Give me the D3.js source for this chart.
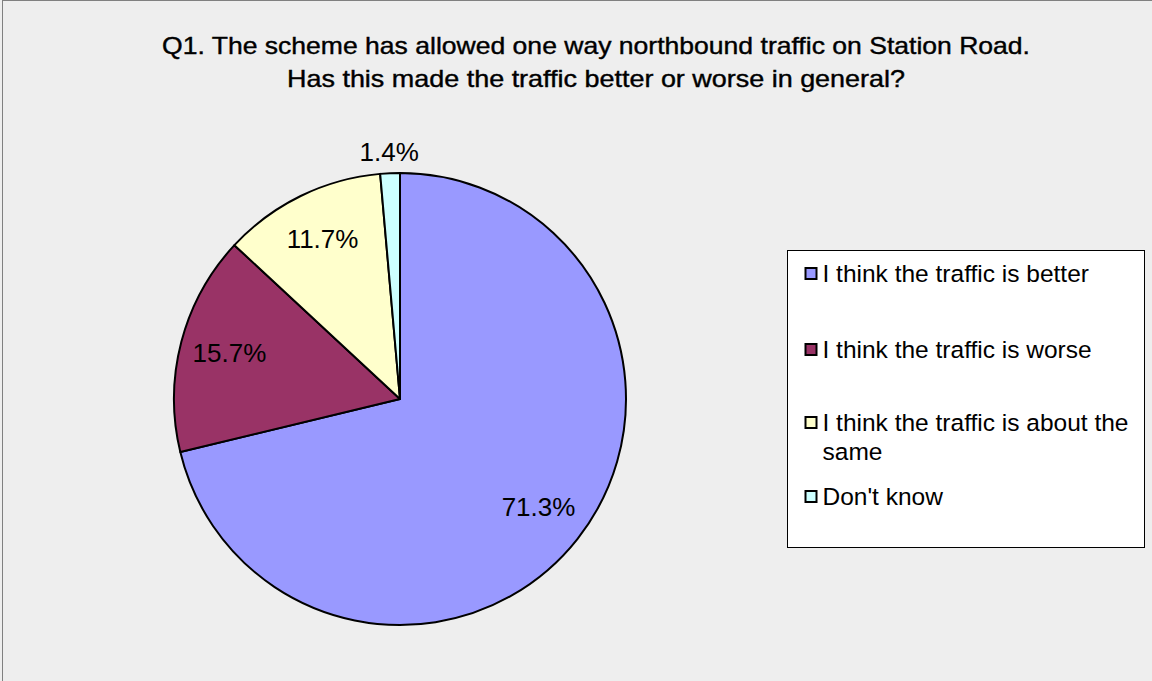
<!DOCTYPE html>
<html lang="en">
<head>
    <meta charset="UTF-8">
    <title>Q1 Station Road</title>
    <script src="https://d3js.org/d3.v7.min.js"></script>
    <style>
        body {
            margin: 0;
            padding: 0;
            background: #eeeeee;
            font-family: 'Liberation Sans', Arial, sans-serif;
        }
        .title {
            font-family: 'Liberation Sans', Arial, sans-serif;
            font-size: 24px;
            fill: #000;
            stroke: #000;
            stroke-width: 0.4px;
        }
    </style>
</head>
<body>
    <svg id="chart"></svg>

    <script>
        // Data
        const categories = [
            "I think the traffic is better",
            "I think the traffic is worse",
            "I think the traffic is about the same",
            "Don't know"
        ];
        const values = [71.3, 15.7, 11.7, 1.4];
        const colors = ["#9999ff", "#993366", "#ffffcc", "#ccffff"];
        const titleLines = [
            "Q1. The scheme has allowed one way northbound traffic on Station Road.",
            "Has this made the traffic better or worse in general?"
        ];
        const titleWidths = [868, 618];
        // legend text wrapped like the original
        const legendLines = [
            ["I think the traffic is better"],
            ["I think the traffic is worse"],
            ["I think the traffic is about the", "same"],
            ["Don't know"]
        ];

        const width = 1152, height = 681;
        const cx = 400, cy = 399, radius = 226;

        const svg = d3.select("#chart")
            .attr("width", width)
            .attr("height", height)
            .style("display", "block");

        // chart area frame
        svg.append("rect")
            .attr("x", 2.5).attr("y", 0.5)
            .attr("width", width + 10).attr("height", height + 10)
            .attr("fill", "#eeeeee")
            .attr("stroke", "#808080")
            .attr("stroke-width", 1);

        // Title
        svg.append("text")
            .attr("class", "title")
            .attr("text-anchor", "middle")
            .selectAll("tspan")
            .data(titleLines)
            .join("tspan")
            .attr("x", 596)
            .attr("y", (d, i) => 54 + i * 33)
            .attr("textLength", (d, i) => titleWidths[i])
            .attr("lengthAdjust", "spacingAndGlyphs")
            .text(d => d);

        const color = d3.scaleOrdinal().domain(categories).range(colors);

        const pie = d3.pie()
            .sort(null)
            .value(d => d.value);

        const data = categories.map((c, i) => ({ name: c, value: values[i] }));
        const arcs = pie(data);

        const arc = d3.arc().innerRadius(0).outerRadius(radius);
        const labelArc = d3.arc().innerRadius(radius * 0.78).outerRadius(radius * 0.78);
        const outerArc = d3.arc().innerRadius(radius + 20).outerRadius(radius + 20);

        const g = svg.append("g")
            .attr("transform", `translate(${cx},${cy})`);

        g.selectAll("path")
            .data(arcs)
            .join("path")
            .attr("d", arc)
            .attr("fill", d => color(d.data.name))
            .attr("stroke", "#000")
            .attr("stroke-width", 2)
            .attr("stroke-linejoin", "round");

        g.selectAll("text.lbl")
            .data(arcs)
            .join("text")
            .attr("class", "lbl")
            .attr("transform", d => {
                const c = (d.data.value < 5 ? outerArc : labelArc).centroid(d);
                return `translate(${c[0]},${c[1]})`;
            })
            .attr("text-anchor", "middle")
            .attr("dy", "0.3em")
            .attr("font-size", "26px")
            .attr("fill", "#000")
            .text(d => d.data.value.toFixed(1) + "%");

        // Legend
        const legend = svg.append("g")
            .attr("transform", "translate(787.5,250.5)");

        legend.append("rect")
            .attr("width", 357)
            .attr("height", 297)
            .attr("fill", "#ffffff")
            .attr("stroke", "#000")
            .attr("stroke-width", 1);

        const rowY = [23, 99, 172, 246];

        const rows = legend.selectAll("g.row")
            .data(categories)
            .join("g")
            .attr("class", "row")
            .attr("transform", (d, i) => `translate(0,${rowY[i]})`);

        rows.append("rect")
            .attr("x", 18)
            .attr("y", -5.5)
            .attr("width", 11)
            .attr("height", 11)
            .attr("fill", d => color(d))
            .attr("stroke", "#000")
            .attr("stroke-width", 2);

        rows.append("text")
            .attr("font-size", "24.5px")
            .attr("fill", "#000")
            .selectAll("tspan")
            .data((d, i) => legendLines[i])
            .join("tspan")
            .attr("x", 35)
            .attr("y", (d, i) => 8 + i * 29)
            .text(d => d);
    </script>
</body>
</html>
